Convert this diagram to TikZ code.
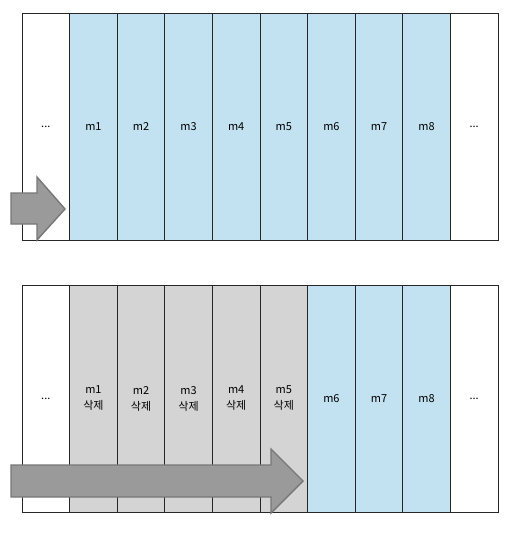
\documentclass[tikz,border=0pt]{standalone}
\usepackage{fontspec}
\setmainfont{Noto Sans CJK KR}
\usepackage{tikz}

\definecolor{cellblue}{HTML}{C2E2F1}
\definecolor{cellgray}{HTML}{D4D4D4}
\definecolor{arrowgray}{HTML}{9A9A9A}
\definecolor{arrowedge}{HTML}{777777}

\tikzset{
    cell/.style={draw=black!85, line width=0.7pt, minimum width=47.6pt, minimum height=227pt,
        inner sep=0pt, font=\fontsize{11}{16}\selectfont, align=center},
    freecell/.style={cell, fill=white},
    livecell/.style={cell, fill=cellblue},
    deadcell/.style={cell, fill=cellgray},
    bigarrow/.style={draw=arrowedge, line width=1.4pt, fill=arrowgray, line join=miter}
}

\begin{document}
\begin{tikzpicture}[x=1pt, y=-1pt]
            \useasboundingbox (0,0) rectangle (530,540);
            % upper row
            \begin{scope}
                \node[freecell] (u0) at (45.8,126.5) {...};
                \node[livecell] (u1) at (93.4,126.5) {m1};
                \node[livecell] (u2) at (141.0,126.5) {m2};
                \node[livecell] (u3) at (188.6,126.5) {m3};
                \node[livecell] (u4) at (236.2,126.5) {m4};
                \node[livecell] (u5) at (283.8,126.5) {m5};
                \node[livecell] (u6) at (331.4,126.5) {m6};
                \node[livecell] (u7) at (379.0,126.5) {m7};
                \node[livecell] (u8) at (426.6,126.5) {m8};
                \node[freecell] (u9) at (474.2,126.5) {...};
            \end{scope}
            \draw[bigarrow] (11,193) -- (37,193) -- (37,177) -- (65,209) -- (37,240)
                -- (37,224) -- (11,224) -- cycle;

            % lower row
            \begin{scope}
                \node[freecell] (l0) at (45.8,398.5) {...};
                \node[deadcell] (l1) at (93.4,398.5) {m1\\삭제};
                \node[deadcell] (l2) at (141.0,398.5) {m2\\삭제};
                \node[deadcell] (l3) at (188.6,398.5) {m3\\삭제};
                \node[deadcell] (l4) at (236.2,398.5) {m4\\삭제};
                \node[deadcell] (l5) at (283.8,398.5) {m5\\삭제};
                \node[livecell] (l6) at (331.4,398.5) {m6};
                \node[livecell] (l7) at (379.0,398.5) {m7};
                \node[livecell] (l8) at (426.6,398.5) {m8};
                \node[freecell] (l9) at (474.2,398.5) {...};
            \end{scope}
            \draw[bigarrow] (11,465) -- (271,465) -- (271,449) -- (303,481) -- (271,513)
                -- (271,497) -- (11,497) -- cycle;
        \end{tikzpicture}
\end{document}
